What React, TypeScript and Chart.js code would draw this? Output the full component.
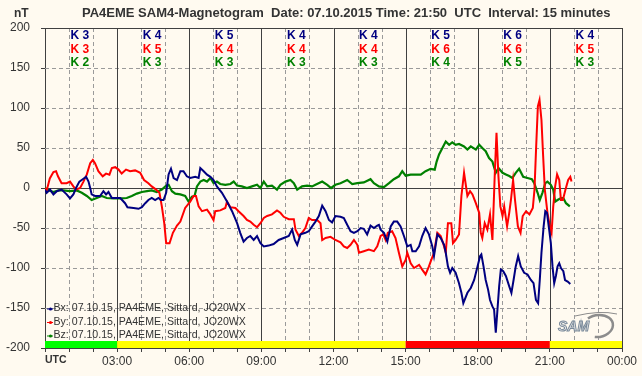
import React, { useEffect, useRef } from "react";
import { Chart, registerables } from "chart.js";
Chart.register(...registerables);

const TITLE = "PA4EME SAM4-Magnetogram  Date: 07.10.2015 Time: 21:50  UTC  Interval: 15 minutes";
const UNIT = "nT";
const timeLabels = ["UTC", "03:00", "06:00", "09:00", "12:00", "15:00", "18:00", "21:00", "00:00"];
const legendLabels = [
  "Bx: 07.10.15, PA4EME, Sittard, JO20WX",
  "By: 07.10.15, PA4EME, Sittard, JO20WX",
  "Bz: 07.10.15, PA4EME, Sittard, JO20WX",
];
const kBx = [3, 4, 5, 4, 4, 5, 6, 4];
const kBy = [3, 5, 4, 4, 4, 6, 6, 5];
const kBz = [2, 3, 3, 3, 3, 4, 5, 3];
const activityStart = [0, 3, 15, 21];
const activityEnd = [3, 15, 21, 24];
const activityColors = ["#00FF00", "#FFFF00", "#FF0000", "#FFFF00"];

const bxSeries: [number, number][] = [
  [0, -2], [0.07, -6], [0.21, -2], [0.35, -8], [0.49, -4], [0.69, -2], [0.9, -8], [1.04, -13], [1.18, -8],
  [1.29, 0], [1.43, 8], [1.57, 11], [1.71, 14], [1.81, 8], [1.88, 0], [1.94, -8], [2.08, -10], [2.29, -10],
  [2.43, -4], [2.54, -8], [2.64, -5], [2.78, -12.5], [2.92, -12.5], [3.13, -12.5], [3.33, -19], [3.43, -24],
  [3.68, -25], [3.89, -26], [4.03, -24], [4.17, -19], [4.3, -15], [4.44, -12.5], [4.58, -15], [4.72, -12.5],
  [4.82, -15], [4.93, -15], [5.04, -6], [5.14, 17], [5.24, 24], [5.35, 12.5], [5.49, 10], [5.63, 21],
  [5.76, 21], [5.9, 14.6], [6.04, 12.5], [6.25, 14], [6.39, 12.5], [6.46, 25], [6.6, 21], [6.74, 16.7],
  [6.88, 14], [7.01, 10], [7.15, 2], [7.36, -6], [7.57, -17], [7.78, -29], [7.99, -44], [8.12, -56],
  [8.26, -67], [8.4, -62.5], [8.54, -60], [8.68, -65], [8.82, -60], [8.96, -69], [9.1, -73], [9.3, -72],
  [9.51, -70], [9.72, -65], [9.93, -62.5], [10.14, -60], [10.28, -52], [10.39, -65], [10.49, -71],
  [10.63, -58], [10.83, -56], [10.97, -54], [11.11, -48], [11.25, -42], [11.39, -35], [11.53, -22],
  [11.67, -29], [11.81, -40], [11.94, -43], [12.08, -35], [12.29, -36], [12.43, -37.5], [12.57, -46],
  [12.71, -54], [12.85, -56], [12.99, -54], [13.13, -50], [13.26, -51], [13.4, -58], [13.54, -47],
  [13.68, -50], [13.82, -47], [13.89, -46], [13.96, -52], [14.1, -56], [14.24, -67], [14.38, -48],
  [14.51, -42], [14.65, -42], [14.79, -48], [14.93, -60], [15.07, -73], [15.21, -71], [15.28, -79],
  [15.42, -79], [15.56, -73], [15.69, -60], [15.83, -50], [15.97, -58], [16.11, -73], [16.18, -85],
  [16.32, -58], [16.46, -62.5], [16.6, -71], [16.67, -81], [16.76, -98], [16.85, -106], [16.94, -100],
  [17.08, -106], [17.22, -119], [17.32, -131], [17.4, -144], [17.57, -131], [17.71, -125], [17.85, -115],
  [17.99, -98], [18.1, -85], [18.15, -83], [18.24, -98], [18.33, -115], [18.43, -127], [18.51, -140],
  [18.61, -148], [18.68, -152], [18.75, -181], [18.82, -152], [18.89, -123], [18.96, -102], [19.06, -104],
  [19.17, -110], [19.31, -123], [19.4, -131], [19.49, -115], [19.58, -98], [19.68, -85], [19.79, -98],
  [19.93, -106], [20.07, -108], [20.21, -115], [20.32, -119], [20.42, -140], [20.51, -144], [20.58, -115],
  [20.65, -81], [20.74, -48], [20.81, -29], [20.88, -31], [20.97, -52], [21.04, -69], [21.11, -98],
  [21.18, -119], [21.25, -110], [21.32, -98], [21.39, -94], [21.46, -100], [21.56, -104], [21.63, -115],
  [21.74, -117], [21.85, -120],
];

const bySeries: [number, number][] = [
  [0, 0], [0.07, -3], [0.2, 12], [0.35, 20], [0.46, 21], [0.54, 14.6], [0.69, 6], [0.9, 6], [1.04, 8],
  [1.18, 2], [1.29, -2], [1.46, 0], [1.6, 8], [1.74, 17], [1.88, 31], [1.99, 35], [2.08, 31], [2.22, 21],
  [2.4, 14.6], [2.54, 18], [2.68, 16.7], [2.78, 25], [2.92, 26], [3.06, 23], [3.19, 18], [3.37, 23],
  [3.54, 21], [3.75, 22], [3.96, 19], [4.12, 10], [4.3, 6], [4.44, 2], [4.62, -2], [4.76, -6], [4.86, -23],
  [4.96, -44], [5.04, -69], [5.18, -69], [5.32, -56], [5.49, -47], [5.63, -42], [5.83, -25], [6.04, -17],
  [6.18, -10], [6.28, -10], [6.39, -23], [6.53, -29], [6.74, -27], [6.88, -33], [7.01, -40], [7.08, -29],
  [7.29, -28], [7.5, -25], [7.57, -17], [7.71, -24], [7.92, -25], [8.05, -29], [8.26, -35], [8.4, -40],
  [8.54, -42], [8.68, -46], [8.82, -49], [8.96, -44], [9.1, -37.5], [9.24, -35], [9.44, -33], [9.65, -28],
  [9.79, -31], [9.93, -36], [10.14, -39], [10.35, -39], [10.42, -52], [10.56, -60], [10.69, -56],
  [10.83, -50], [10.97, -37.5], [11.11, -40], [11.32, -40], [11.46, -44], [11.53, -65], [11.67, -62.5],
  [11.875, -61], [12.08, -65], [12.29, -68], [12.43, -73], [12.57, -75], [12.71, -71], [12.85, -65],
  [12.99, -71], [13.06, -81], [13.26, -79], [13.47, -77], [13.68, -79], [13.82, -73], [13.96, -60],
  [14.07, -58], [14.17, -65], [14.26, -56], [14.44, -54], [14.58, -62.5], [14.72, -81], [14.86, -98],
  [15.0, -90], [15.07, -81], [15.21, -94], [15.35, -100], [15.56, -96], [15.69, -102], [15.83, -108],
  [15.97, -98], [16.04, -92], [16.18, -81], [16.32, -56], [16.46, -60], [16.6, -73], [16.67, -81],
  [16.76, -44], [16.9, -44], [16.97, -69], [17.08, -65], [17.22, -58], [17.32, -10], [17.43, 19],
  [17.57, -10], [17.68, -4], [17.78, -8], [17.92, -19], [18.06, -31], [18.125, -56], [18.19, -62.5],
  [18.29, -44], [18.4, -52], [18.51, -33], [18.61, -65], [18.71, 19], [18.78, 69], [18.86, 15],
  [18.94, -23], [19.03, -35], [19.1, -23], [19.22, -48], [19.31, -31], [19.38, -15], [19.47, 10],
  [19.55, -15], [19.67, -48], [19.78, -56], [19.87, -35], [20.01, -29], [20.15, -33], [20.29, -25],
  [20.36, -2], [20.43, 52], [20.5, 102], [20.57, 110], [20.65, 85], [20.72, 40], [20.79, -2], [20.9, -31],
  [21.0, -48], [21.07, -56], [21.14, -23], [21.22, 2], [21.3, 17], [21.39, 10], [21.46, -15], [21.54, -15],
  [21.65, -2], [21.76, 10], [21.85, 14], [21.9, 8],
];

const bzSeries: [number, number][] = [
  [0, 0], [0.18, -3], [0.35, -5], [0.56, -3], [0.76, -3], [1.04, -4], [1.32, -3], [1.53, -6], [1.74, -10],
  [1.94, -15], [2.15, -12.5], [2.36, -10], [2.57, -12.5], [2.85, -13], [3.13, -13], [3.4, -12.5],
  [3.61, -10], [3.82, -7], [4.03, -5], [4.24, -4], [4.44, -3], [4.65, -5], [4.86, -2], [5.04, 3],
  [5.14, 4], [5.28, -4], [5.42, -7], [5.63, -8], [5.83, -10], [5.97, -17], [6.11, -11], [6.22, -10],
  [6.32, 2], [6.46, 8], [6.6, 10], [6.74, 8], [6.88, 12.5], [7.01, 6], [7.15, 8], [7.29, 5], [7.5, 4],
  [7.71, 5], [7.85, 8], [7.99, 3], [8.19, 2], [8.4, 0], [8.61, 2], [8.82, 4], [8.96, 0], [9.1, 8],
  [9.24, 2], [9.44, 3], [9.65, -2], [9.79, 4], [10.0, 8], [10.21, 10], [10.35, 6], [10.49, -2], [10.69, 2],
  [10.9, 3], [11.11, 2], [11.25, 4], [11.53, 8], [11.74, 4], [11.9, 0], [12.08, 4], [12.29, 6],
  [12.57, 10], [12.78, 5], [12.99, 6], [13.26, 7], [13.54, 11], [13.68, 6], [13.89, 2], [14.1, 1],
  [14.31, 6], [14.51, 11], [14.72, 14.6], [14.86, 21], [15.0, 15.4], [15.21, 16.7], [15.42, 16.7],
  [15.63, 16.7], [15.83, 21], [16.04, 24], [16.21, 23], [16.29, 33], [16.39, 42], [16.53, 50],
  [16.67, 58], [16.81, 54], [16.94, 57], [17.08, 54], [17.22, 55], [17.43, 52], [17.57, 48], [17.71, 52],
  [17.92, 48], [18.06, 54], [18.19, 50], [18.33, 46], [18.47, 37.5], [18.61, 33], [18.75, 19],
  [18.86, 25], [19.03, 19], [19.17, 17], [19.31, 15], [19.44, 12.5], [19.58, 19], [19.72, 24],
  [19.89, 14], [20.07, 12.5], [20.25, 11], [20.35, 6], [20.49, -6], [20.58, -15], [20.69, -6],
  [20.81, 6], [20.9, 8], [21.04, 4], [21.14, -2], [21.22, -17], [21.32, -15], [21.46, -12.5],
  [21.56, -12.5], [21.67, -19], [21.83, -23],
];

const BLUE = "#000080";
const RED = "#FF0000";
const GREEN = "#008000";
const BG = "#FFFAF0";
const DARK = "#404040";
const TEXT = "#333333";
const FONT = "'Liberation Sans', Arial, sans-serif";

const decorPlugin = {
  id: "decor",
  beforeDraw(chart: any) {
    const ctx = chart.ctx;
    ctx.save();
    ctx.fillStyle = BG;
    ctx.fillRect(0, 0, chart.width, chart.height);
    ctx.restore();
  },
  beforeDatasetsDraw(chart: any) {
    const { ctx, chartArea: a, scales } = chart;
    const x = scales.x;
    const y = scales.y;
    ctx.save();
    ctx.lineWidth = 1;
    // dashed grid
    ctx.strokeStyle = "#9a9a9a";
    ctx.setLineDash([4, 3]);
    for (let h = 1; h < 24; h++) {
      if (h % 3 === 0) continue;
      const px = Math.round(x.getPixelForValue(h)) + 0.5;
      ctx.beginPath();
      ctx.moveTo(px, a.top);
      ctx.lineTo(px, a.bottom);
      ctx.stroke();
    }
    for (let v = -150; v <= 150; v += 50) {
      if (v === 0) continue;
      const py = Math.round(y.getPixelForValue(v)) + 0.5;
      ctx.beginPath();
      ctx.moveTo(a.left, py);
      ctx.lineTo(a.right, py);
      ctx.stroke();
    }
    ctx.setLineDash([]);
    ctx.strokeStyle = DARK;
    for (let h = 3; h <= 24; h += 3) {
      const px = Math.round(x.getPixelForValue(h)) + 0.5;
      ctx.beginPath();
      ctx.moveTo(px, a.top);
      ctx.lineTo(px, a.bottom);
      ctx.stroke();
    }
    const z = Math.round(y.getPixelForValue(0)) + 0.5;
    ctx.beginPath();
    ctx.moveTo(a.left, z);
    ctx.lineTo(a.right, z);
    ctx.stroke();
    const t = Math.round(y.getPixelForValue(200)) + 0.5;
    ctx.beginPath();
    ctx.moveTo(a.left, t);
    ctx.lineTo(a.right, t);
    ctx.stroke();
    // activity bar
    const barH = 7;
    for (let i = 0; i < activityStart.length; i++) {
      const x0 = x.getPixelForValue(activityStart[i]);
      const x1 = x.getPixelForValue(activityEnd[i]);
      ctx.fillStyle = activityColors[i];
      ctx.fillRect(x0, a.bottom - barH, x1 - x0, barH);
    }
    ctx.restore();
  },
  afterDraw(chart: any) {
    const { ctx, chartArea: a, scales } = chart;
    const x = scales.x;
    ctx.save();
    // title
    ctx.fillStyle = TEXT;
    ctx.textBaseline = "middle";
    ctx.textAlign = "left";
    ctx.font = `bold 13px ${FONT}`;
    ctx.fillText(TITLE, 82, 13.5);
    ctx.font = `bold 12px ${FONT}`;
    ctx.fillText(UNIT, 14, 13.5);
    // UTC label
    ctx.font = `bold 10.5px ${FONT}`;
    ctx.fillText(timeLabels[0], a.left, 360);
    // K labels
    ctx.font = `bold 12px ${FONT}`;
    const rows: [number[], string, number][] = [
      [kBx, BLUE, 36],
      [kBy, RED, 49.5],
      [kBz, GREEN, 62.5],
    ];
    for (let i = 0; i < kBx.length; i++) {
      const px = x.getPixelForValue(i * 3 + 1) + 1.5;
      for (const [arr, col, yy] of rows) {
        ctx.fillStyle = col;
        ctx.fillText("K " + arr[i], px, yy);
      }
    }
    // legend
    ctx.font = `10.6px ${FONT}`;
    const lcols = [BLUE, RED, GREEN];
    const ly = [308.5, 322, 335.5];
    for (let i = 0; i < 3; i++) {
      ctx.strokeStyle = lcols[i];
      ctx.fillStyle = lcols[i];
      ctx.lineWidth = 1;
      ctx.beginPath();
      ctx.moveTo(47, ly[i] + 0.5);
      ctx.lineTo(53, ly[i] + 0.5);
      ctx.stroke();
      ctx.beginPath();
      ctx.arc(50.5, ly[i] + 0.5, 1.6, 0, Math.PI * 2);
      ctx.fill();
      ctx.fillStyle = TEXT;
      ctx.fillText(legendLabels[i], 53.5, ly[i]);
    }
    // logo
    ctx.strokeStyle = "#8c8c8c";
    ctx.lineWidth = 2.5;
    ctx.beginPath();
    ctx.ellipse(598, 326, 15, 11, -0.15, -2.2, 1.9);
    ctx.stroke();
    ctx.lineWidth = 1;
    ctx.beginPath();
    ctx.moveTo(575, 316);
    ctx.quadraticCurveTo(600, 310, 617, 314);
    ctx.stroke();
    ctx.font = `italic bold 14px ${FONT}`;
    ctx.fillStyle = "#e8e8e8";
    ctx.strokeStyle = "#7a8a9a";
    ctx.lineWidth = 1;
    ctx.textBaseline = "alphabetic";
    ctx.fillText("SAM", 558, 331);
    ctx.strokeText("SAM", 558, 331);
    ctx.restore();
  },
};

export default function App() {
  const ref = useRef<HTMLCanvasElement>(null);
  useEffect(() => {
    document.body.style.margin = "0";
    const toXY = (s: [number, number][]) => s.map(([h, v]) => ({ x: h, y: v }));
    const chart = new Chart(ref.current!, {
      type: "line",
      data: {
        datasets: [
          { label: "Bx", data: toXY(bxSeries), borderColor: BLUE, borderWidth: 2, pointRadius: 0, tension: 0, fill: false },
          { label: "By", data: toXY(bySeries), borderColor: RED, borderWidth: 2, pointRadius: 0, tension: 0, fill: false },
          { label: "Bz", data: toXY(bzSeries), borderColor: GREEN, borderWidth: 2.2, pointRadius: 0, tension: 0, fill: false },
        ],
      },
      options: {
        animation: false,
        responsive: false,
        devicePixelRatio: 1,
        layout: { padding: { top: 28, right: 20, left: 0, bottom: 0 } },
        plugins: { legend: { display: false }, tooltip: { enabled: false }, title: { display: false } },
        scales: {
          x: {
            type: "linear",
            min: 0,
            max: 24,
            afterFit: (s: any) => { s.height = 28; },
            afterBuildTicks: (s: any) => {
              const t = [];
              for (let h = 0; h <= 24; h++) t.push({ value: h });
              s.ticks = t;
            },
            ticks: {
              autoSkip: false,
              maxRotation: 0,
              padding: 2,
              color: TEXT,
              font: { family: FONT, size: 12 },
              callback: (v: any) => (v % 3 === 0 && v !== 0 ? timeLabels[v / 3] : ""),
            },
            grid: { drawOnChartArea: false, drawTicks: true, tickLength: 4, tickColor: DARK, color: DARK },
            border: { display: true, color: DARK, width: 1 },
          },
          y: {
            type: "linear",
            min: -200,
            max: 200,
            afterFit: (s: any) => { s.width = 45; },
            ticks: {
              stepSize: 50,
              padding: 11,
              color: TEXT,
              font: { family: FONT, size: 12 },
            },
            grid: { drawOnChartArea: false, drawTicks: true, tickLength: 4, tickColor: DARK, color: DARK },
            border: { display: true, color: DARK, width: 1 },
          },
        },
      },
      plugins: [decorPlugin],
    } as any);
    return () => chart.destroy();
  }, []);
  return (
    <div style={{ position: "absolute", left: 0, top: 0, width: 642, height: 376 }}>
      <canvas ref={ref} width={642} height={376} style={{ display: "block", width: 642, height: 376 }} />
    </div>
  );
}
